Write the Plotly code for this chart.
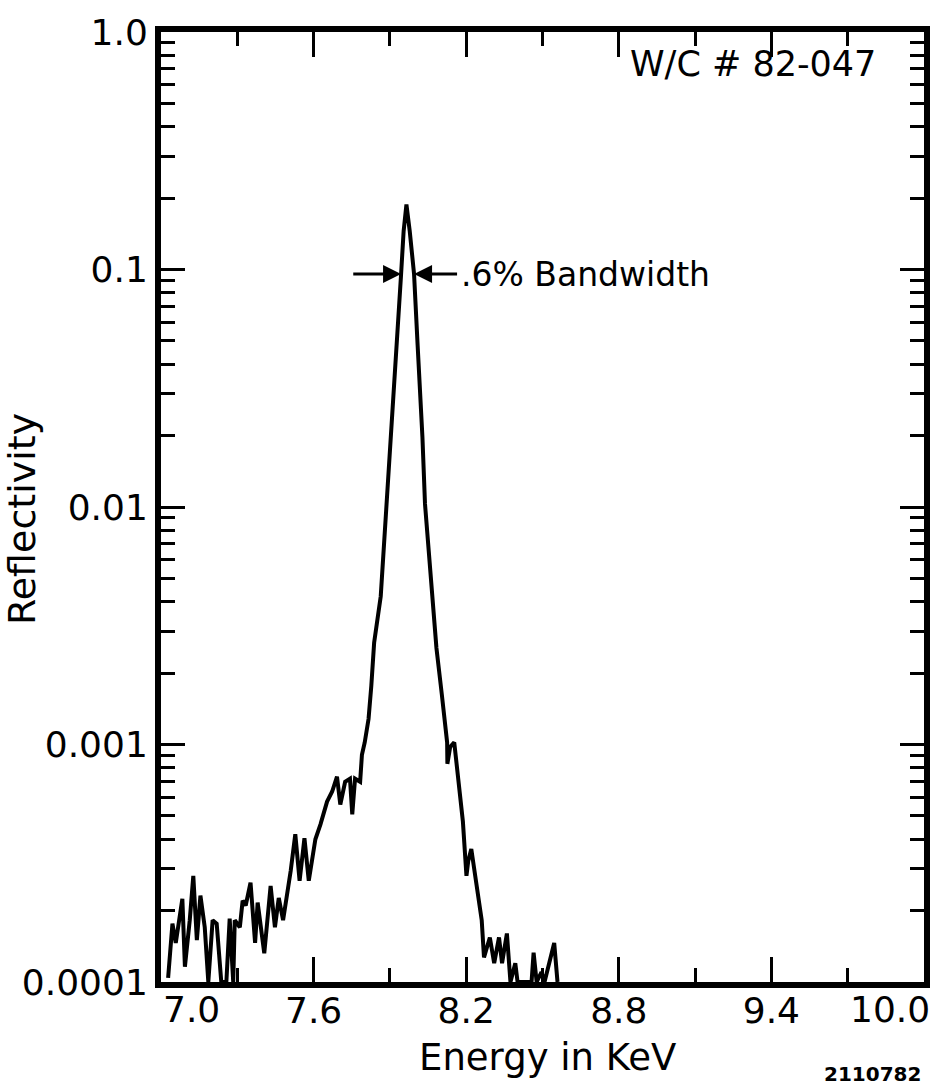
import math
import plotly.graph_objects as go

# ---- data ----
energy_kev = [
    7.028, 7.045, 7.058, 7.084, 7.094, 7.113, 7.127, 7.141, 7.155, 7.172,
    7.186, 7.203, 7.219, 7.237, 7.257, 7.270, 7.284, 7.290, 7.310, 7.321,
    7.333, 7.352, 7.370, 7.380, 7.406, 7.431, 7.448, 7.463, 7.480, 7.498,
    7.510, 7.528, 7.545, 7.564, 7.581, 7.607, 7.627, 7.653, 7.673, 7.692,
    7.705, 7.724, 7.743, 7.752, 7.763, 7.783, 7.790, 7.801, 7.816, 7.827,
    7.838, 7.864, 7.888, 7.906, 7.923, 7.944, 7.954, 7.965, 7.978, 7.995,
    8.009, 8.023, 8.028, 8.038, 8.051, 8.069, 8.083, 8.104, 8.125, 8.126,
    8.137, 8.153, 8.165, 8.178, 8.187, 8.201, 8.208, 8.220, 8.232, 8.249,
    8.261, 8.270, 8.293, 8.310, 8.329, 8.341, 8.360, 8.374, 8.393, 8.402,
    8.457, 8.465, 8.477, 8.496, 8.508, 8.546, 8.559,
]
reflectivity = [
    1.04e-4, 1.76e-4, 1.46e-4, 2.24e-4, 1.16e-4, 1.82e-4, 2.80e-4, 1.50e-4, 2.31e-4, 1.70e-4,
    1.00e-4, 1.82e-4, 1.76e-4, 1.00e-4, 1.00e-4, 1.85e-4, 1.00e-4, 1.82e-4, 1.70e-4, 2.20e-4,
    2.10e-4, 2.62e-4, 1.46e-4, 2.16e-4, 1.32e-4, 2.54e-4, 1.70e-4, 2.26e-4, 1.82e-4, 2.42e-4,
    2.94e-4, 4.19e-4, 2.67e-4, 4.03e-4, 2.67e-4, 3.99e-4, 4.61e-4, 5.75e-4, 6.34e-4, 7.32e-4,
    5.59e-4, 6.97e-4, 7.18e-4, 5.08e-4, 7.18e-4, 6.97e-4, 9.04e-4, 1.02e-3, 1.28e-3, 1.77e-3,
    2.68e-3, 4.21e-3, 1.03e-2, 2.06e-2, 4.36e-2, 9.57e-2, 0.145, 0.188, 0.145, 9.57e-2,
    4.80e-2, 2.69e-2, 1.96e-2, 1.03e-2, 7.02e-3, 3.94e-3, 2.55e-3, 1.63e-3, 1.02e-3, 8.29e-4,
    9.77e-4, 1.02e-3, 7.91e-4, 5.75e-4, 4.74e-4, 2.80e-4, 3.23e-4, 3.63e-4, 2.94e-4, 2.20e-4,
    1.82e-4, 1.27e-4, 1.54e-4, 1.20e-4, 1.54e-4, 1.20e-4, 1.60e-4, 1.00e-4, 1.20e-4, 1.00e-4,
    1.00e-4, 1.33e-4, 1.00e-4, 1.10e-4, 1.00e-4, 1.46e-4, 1.00e-4,
]

x_major_vals = [7.0, 7.6, 8.2, 8.8, 9.4, 10.0]
x_major_text = ["", "7.6", "8.2", "8.8", "9.4", ""]   # end labels placed as annotations
x_end_vals = [7.0, 10.0]
x_end_text = ["7.0", "10.0"]
x_minor_vals = [7.3, 7.9, 8.5, 9.1, 9.7]

y_major_vals = [1e-4, 1e-3, 1e-2, 1e-1, 1.0]
y_major_text = ["0.0001", "0.001", "0.01", "0.1", "1.0"]
y_decades = [1e-4, 1e-3, 1e-2, 1e-1]
y_minor_mult = [2, 3, 4, 5, 6, 7, 8, 9]
y_minor_vals = [d * m for d in y_decades for m in y_minor_mult]

bandwidth_left = 7.944
bandwidth_right = 7.995
bandwidth_level = 0.0957

FONT = "DejaVu Sans"

fig = go.Figure()
fig.add_trace(go.Scatter(
    x=energy_kev, y=reflectivity, mode="lines",
    line=dict(color="black", width=4, shape="linear"),
    showlegend=False, hoverinfo="skip",
))

fig.update_layout(
    width=950, height=1089,
    margin=dict(l=161, r=26, t=24, b=107),
    paper_bgcolor="white", plot_bgcolor="white",
    font=dict(family=FONT, color="black"),
    showlegend=False,
)

fig.update_xaxes(
    range=[7.0, 10.0], showgrid=False, zeroline=False,
    showline=True, linecolor="black", linewidth=6, mirror="ticks",
    tickmode="array", tickvals=x_major_vals, ticktext=x_major_text,
    ticks="inside", ticklen=25, tickwidth=3, tickcolor="black",
    tickfont=dict(family=FONT, size=36, color="black"),
    ticklabelstandoff=-8,
    minor=dict(tickmode="array", tickvals=x_minor_vals, ticks="inside",
               ticklen=14, tickwidth=3, tickcolor="black", showgrid=False),
)
fig.update_yaxes(
    type="log", range=[-4, 0], showgrid=False, zeroline=False,
    showline=True, linecolor="black", linewidth=6, mirror="ticks",
    tickmode="array", tickvals=y_major_vals, ticktext=y_major_text,
    ticks="inside", ticklen=24, tickwidth=3, tickcolor="black",
    tickfont=dict(family=FONT, size=36, color="black"),
    minor=dict(tickmode="array", tickvals=y_minor_vals, ticks="inside",
               ticklen=14, tickwidth=3, tickcolor="black", showgrid=False),
)

lvl = math.log10(bandwidth_level)

annotations = [
    dict(text="Reflectivity", xref="paper", yref="paper", x=-0.182, y=0.4875,
         textangle=-90, showarrow=False, xanchor="center", yanchor="middle",
         font=dict(family=FONT, size=38, color="black")),
    dict(text="Energy in KeV", xref="paper", yref="paper", x=0.507, y=-0.0793,
         showarrow=False, xanchor="center", yanchor="middle",
         font=dict(family=FONT, size=37, color="black")),
    dict(text="W/C # 82-047", xref="paper", yref="paper", x=0.776, y=0.9666,
         showarrow=False, xanchor="center", yanchor="middle",
         font=dict(family=FONT, size=35, color="black")),
    dict(text="<b>2110782</b>", xref="paper", yref="paper", x=0.932, y=-0.097,
         showarrow=False, xanchor="center", yanchor="middle",
         font=dict(family=FONT, size=20, color="black")),
    dict(text=".6% Bandwidth", xref="x", yref="y", x=8.17, y=lvl,
         showarrow=False, xanchor="left", yanchor="middle",
         font=dict(family=FONT, size=33, color="black")),
    dict(text="", xref="x", yref="y", x=bandwidth_left, y=lvl,
         axref="x", ayref="y", ax=7.75, ay=lvl, showarrow=True,
         arrowhead=2, arrowsize=1.2, arrowwidth=3, arrowcolor="black"),
    dict(text="", xref="x", yref="y", x=bandwidth_right, y=lvl,
         axref="x", ayref="y", ax=8.17, ay=lvl, showarrow=True,
         arrowhead=2, arrowsize=1.2, arrowwidth=3, arrowcolor="black"),
]
for val, txt, anchor, shift in zip(x_end_vals, x_end_text, ["left", "right"], [0, 8]):
    annotations.append(dict(
        text=txt, xref="x", yref="paper", x=val, y=-0.029, xshift=shift,
        showarrow=False, xanchor=anchor, yanchor="middle",
        font=dict(family=FONT, size=36, color="black")))
fig.update_layout(annotations=annotations)

fig.write_html("out.html")
